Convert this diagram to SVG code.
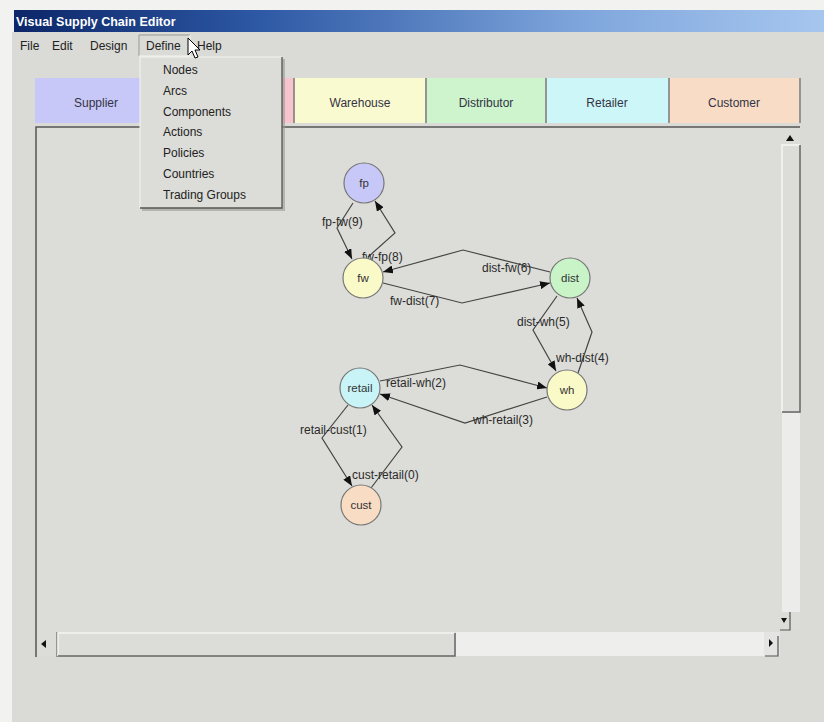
<svg xmlns="http://www.w3.org/2000/svg" width="824" height="722" viewBox="0 0 824 722">
<defs>
<linearGradient id="tb" x1="0" y1="0" x2="1" y2="0">
<stop offset="0" stop-color="#0c2668"/>
<stop offset="0.3" stop-color="#2d58a4"/>
<stop offset="0.7" stop-color="#7fa6dc"/>
<stop offset="1" stop-color="#a6c6ee"/>
</linearGradient>
<marker id="ah" markerUnits="userSpaceOnUse" markerWidth="10" markerHeight="8" refX="10" refY="4" orient="auto">
<path d="M0,0 L10,4 L0,8 z" fill="#111"/>
</marker>
<style>
.ui{font-family:"Liberation Sans",Arial,sans-serif;font-size:12px;fill:#222}
.tab{font-family:"Liberation Sans",Arial,sans-serif;font-size:12px;fill:#334;text-anchor:middle}
.lbl{font-family:"Liberation Sans",Arial,sans-serif;font-size:12px;fill:#2a2a2a}
.nl{font-family:"Liberation Sans",Arial,sans-serif;font-size:11.5px;fill:#333;text-anchor:middle}
.edge{fill:none;stroke:#444;stroke-width:1.2;marker-end:url(#ah)}
.node{stroke:#777;stroke-width:1.2}
.sep{stroke:#666;stroke-width:1.2}
</style>
</defs>
<rect x="0" y="0" width="824" height="722" fill="#f2f2f0"/>
<rect x="12" y="32" width="812" height="690" fill="#dadad6"/>
<rect x="14" y="10" width="810" height="22" fill="url(#tb)"/>
<text x="16" y="26" font-family="Liberation Sans,Arial,sans-serif" font-size="12.5" font-weight="bold" fill="#ffffff">Visual Supply Chain Editor</text>
<g id="menubar">
<text class="ui" x="20" y="50">File</text>
<text class="ui" x="52" y="50">Edit</text>
<text class="ui" x="90" y="50">Design</text>
<path d="M139,56 V35 H190" fill="none" stroke="#999" stroke-width="1"/>
<path d="M190,35 V56 H139" fill="none" stroke="#f4f4f2" stroke-width="1"/>
<text class="ui" x="146" y="50">Define</text>
<text class="ui" x="197" y="50">Help</text>
</g>
<g id="tabs">
<rect x="35" y="78" width="125" height="45" fill="#c8c8f8"/>
<rect x="160" y="78" width="134" height="45" fill="#f6c4cc"/>
<rect x="295" y="78" width="130" height="45" fill="#fafad0"/>
<rect x="427" y="78" width="118" height="45" fill="#cdf4cd"/>
<rect x="547" y="78" width="121" height="45" fill="#cdf6f8"/>
<rect x="670" y="78" width="129" height="45" fill="#f9dcc6"/>
<line class="sep" x1="294" y1="78" x2="294" y2="123"/>
<line class="sep" x1="426" y1="78" x2="426" y2="123"/>
<line class="sep" x1="546" y1="78" x2="546" y2="123"/>
<line class="sep" x1="669" y1="78" x2="669" y2="123"/>
<line class="sep" x1="800" y1="78" x2="800" y2="123"/>
<text class="tab" x="96" y="107">Supplier</text>
<text class="tab" x="360" y="107">Warehouse</text>
<text class="tab" x="486" y="107">Distributor</text>
<text class="tab" x="607" y="107">Retailer</text>
<text class="tab" x="734" y="107">Customer</text>
</g>
<g id="panel">
<rect x="36" y="127" width="746" height="505" fill="#dcdcd8"/>
<path d="M36,657 V127 H800" fill="none" stroke="#555" stroke-width="1.5"/>
<rect x="782" y="128" width="18" height="17" fill="#dcdcd8"/>
<path d="M786,141 L790,135 L794,141 z" fill="#111"/>
<rect x="782" y="145" width="18" height="267" fill="#dcdcd8"/>
<path d="M782,412 V145 H800" fill="none" stroke="#f6f6f4" stroke-width="1.5"/>
<path d="M782,412 H800 V145" fill="none" stroke="#666" stroke-width="1.5"/>
<rect x="782" y="413" width="18" height="199" fill="#ececea"/>
<rect x="780" y="612" width="20" height="18" fill="#dcdcd8"/>
<path d="M780,630 H790 V612" fill="none" stroke="#555" stroke-width="1.2"/>
<path d="M781,618 L787,618 L784,623 z" fill="#111"/>
<rect x="37" y="632" width="20" height="24" fill="#dcdcd8"/>
<line x1="57" y1="632" x2="57" y2="657" stroke="#666" stroke-width="1.2"/>
<path d="M46,640 L46,648 L41,644 z" fill="#111"/>
<rect x="58" y="632" width="397" height="24" fill="#dcdcd8"/>
<path d="M58,656 V633 H455" fill="none" stroke="#f4f4f2" stroke-width="1.5"/>
<path d="M58,656 H455 V633" fill="none" stroke="#666" stroke-width="1.5"/>
<rect x="456" y="632" width="308" height="24" fill="#eeeeec"/>
<rect x="764" y="632" width="16" height="24" fill="#e4e4e2"/>
<path d="M765,656 H778 V636" fill="none" stroke="#555" stroke-width="1.2"/>
<path d="M769,639 L769,647 L773,643 z" fill="#111"/>
</g>
<g id="connectors">
<polyline class="edge" points="353,203 337,228 352,259"/>
<polyline class="edge" points="368,257 395,233 375,201"/>
<polyline class="edge" points="550,272 463,250 383,272"/>
<polyline class="edge" points="383,283 462,303 550,283"/>
<polyline class="edge" points="557,296 533,330 556,371"/>
<polyline class="edge" points="578,373 592,332 577,298"/>
<polyline class="edge" points="380,381 460,365 547,388"/>
<polyline class="edge" points="547,397 465,423 380,394"/>
<polyline class="edge" points="348,405 322,438 352,486"/>
<polyline class="edge" points="371,488 402,447 372,405"/>
<text class="lbl" x="322" y="226">fp-fw(9)</text>
<text class="lbl" x="362" y="261">fw-fp(8)</text>
<text class="lbl" x="482" y="272">dist-fw(6)</text>
<text class="lbl" x="390" y="305">fw-dist(7)</text>
<text class="lbl" x="517" y="326">dist-wh(5)</text>
<text class="lbl" x="556" y="362">wh-dist(4)</text>
<text class="lbl" x="386" y="387">retail-wh(2)</text>
<text class="lbl" x="473" y="424">wh-retail(3)</text>
<text class="lbl" x="300" y="434">retail-cust(1)</text>
<text class="lbl" x="352" y="479">cust-retail(0)</text>
</g>
<g id="node-fp"><circle class="node" cx="364" cy="183" r="20" fill="#c8c8f8"/><text class="nl" x="364" y="187">fp</text></g>
<g id="node-fw"><circle class="node" cx="363" cy="278" r="20" fill="#fafac8"/><text class="nl" x="363" y="282">fw</text></g>
<g id="node-dist"><circle class="node" cx="570" cy="278" r="20" fill="#c8f4c8"/><text class="nl" x="570" y="282">dist</text></g>
<g id="node-wh"><circle class="node" cx="567" cy="390" r="20" fill="#fafac8"/><text class="nl" x="567" y="394">wh</text></g>
<g id="node-retail"><circle class="node" cx="360" cy="388" r="20" fill="#c8f4f8"/><text class="nl" x="360" y="392">retail</text></g>
<g id="node-cust"><circle class="node" cx="361" cy="505" r="20" fill="#f8dcc4"/><text class="nl" x="361" y="509">cust</text></g>
<g id="dropdown">
<rect x="142" y="59" width="143" height="152" fill="#9a9a98" opacity="0.6"/>
<rect x="140" y="57" width="142" height="151" fill="#dcdcd8"/>
<path d="M140,208 V57 H282" fill="none" stroke="#f4f4f2" stroke-width="1"/>
<path d="M140,208 H282 V57" fill="none" stroke="#555" stroke-width="1.3"/>
<text class="ui" x="163" y="74">Nodes</text>
<text class="ui" x="163" y="95">Arcs</text>
<text class="ui" x="163" y="116">Components</text>
<text class="ui" x="163" y="136">Actions</text>
<text class="ui" x="163" y="157">Policies</text>
<text class="ui" x="163" y="178">Countries</text>
<text class="ui" x="163" y="199">Trading Groups</text>
</g>
<path id="cursor" d="M188,38 V55 L192,51 L195,58 L198,57 L195,50 L200,50 Z" fill="#fff" stroke="#000" stroke-width="1"/>
</svg>
